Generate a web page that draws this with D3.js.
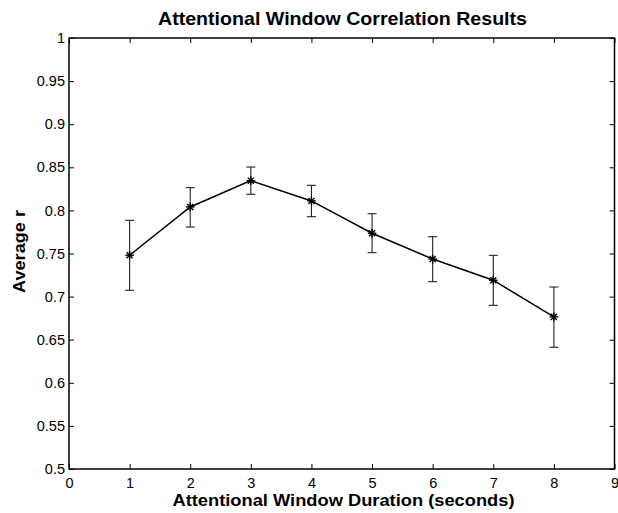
<!DOCTYPE html>
<html>
<head>
<meta charset="utf-8">
<script src="https://cdn.jsdelivr.net/npm/d3@7/dist/d3.min.js"></script>
<style>
  html, body { margin: 0; padding: 0; background: #fff; }
  svg { display: block; font-family: "Liberation Sans", Arial, Helvetica, sans-serif; }
</style>
</head>
<body>
<svg id="chart" width="618" height="513"></svg>
<script>
// Window duration (seconds) and mean correlation with error bounds
const durations = [1, 2, 3, 4, 5, 6, 7, 8];
const meanR     = [0.748, 0.804, 0.8345, 0.811, 0.7735, 0.7436, 0.719, 0.6765];
const upperR    = [0.7885, 0.8264, 0.8503, 0.8291, 0.7962, 0.7695, 0.7479, 0.7111];
const lowerR    = [0.7073, 0.7807, 0.8187, 0.7927, 0.751, 0.7173, 0.6899, 0.6412];

const xTicks = [0, 1, 2, 3, 4, 5, 6, 7, 8, 9];
const yTicks = [0.5, 0.55, 0.6, 0.65, 0.7, 0.75, 0.8, 0.85, 0.9, 0.95, 1];

const titleText  = "Attentional Window Correlation Results";
const xLabelText = "Attentional Window Duration (seconds)";
const yLabelText = "Average r";

const svg = d3.select("#chart");
const plotL = 69, plotR = 614.5, plotT = 38, plotB = 469;

const x = d3.scaleLinear().domain([0, 9]).range([plotL, plotR]);
const y = d3.scaleLinear().domain([0.5, 1]).range([plotB, plotT]);

const points = durations.map((d, i) => ({ d, m: meanR[i], hi: upperR[i], lo: lowerR[i] }));

// Axes: ticks point inward, mirrored on top and right edges
const tickLen = 5;
const fmtY = v => (v === 1 ? "1" : String(+v.toFixed(2)));

const xAxisB = d3.axisBottom(x).tickValues(xTicks).tickSizeInner(-tickLen).tickSizeOuter(0).tickPadding(9).tickFormat(d3.format("d"));
const xAxisT = d3.axisTop(x).tickValues(xTicks).tickSizeInner(-tickLen).tickSizeOuter(0).tickFormat("");
const yAxisL = d3.axisLeft(y).tickValues(yTicks).tickSizeInner(-tickLen).tickSizeOuter(0).tickPadding(4).tickFormat(fmtY);
const yAxisR = d3.axisRight(y).tickValues(yTicks).tickSizeInner(-tickLen).tickSizeOuter(0).tickFormat("");

function styleAxis(g) {
  g.select(".domain").remove();
  g.selectAll(".tick line").attr("stroke", "#000").attr("stroke-width", 1);
  g.selectAll(".tick text").attr("fill", "#000").style("font-size", "14.5px")
    .style("font-family", "'Liberation Sans', Arial, sans-serif");
}

svg.append("g").attr("transform", `translate(0,${plotB})`).call(xAxisB).call(styleAxis);
svg.append("g").attr("transform", `translate(0,${plotT})`).call(xAxisT).call(styleAxis);
svg.append("g").attr("transform", `translate(${plotL},0)`).call(yAxisL).call(styleAxis);
svg.append("g").attr("transform", `translate(${plotR},0)`).call(yAxisR).call(styleAxis);

// Frame
svg.append("rect")
  .attr("x", plotL).attr("y", plotT)
  .attr("width", plotR - plotL).attr("height", plotB - plotT)
  .attr("fill", "none").attr("stroke", "#000").attr("stroke-width", 1.5);

// Error bars
const capHalf = 4.5;
const eb = svg.append("g").attr("stroke", "#222").attr("stroke-width", 1.1);
eb.selectAll("line.v").data(points).join("line").attr("class", "v")
  .attr("x1", p => x(p.d)).attr("x2", p => x(p.d))
  .attr("y1", p => y(p.hi)).attr("y2", p => y(p.lo));
eb.selectAll("line.hi").data(points).join("line").attr("class", "hi")
  .attr("x1", p => x(p.d) - capHalf).attr("x2", p => x(p.d) + capHalf)
  .attr("y1", p => y(p.hi)).attr("y2", p => y(p.hi));
eb.selectAll("line.lo").data(points).join("line").attr("class", "lo")
  .attr("x1", p => x(p.d) - capHalf).attr("x2", p => x(p.d) + capHalf)
  .attr("y1", p => y(p.lo)).attr("y2", p => y(p.lo));

// Mean line
svg.append("path")
  .datum(points)
  .attr("fill", "none").attr("stroke", "#000").attr("stroke-width", 1.5)
  .attr("d", d3.line().x(p => x(p.d)).y(p => y(p.m)));

// Asterisk markers
const starR = 4.3;
const star = svg.append("g").attr("stroke", "#000").attr("stroke-width", 1.4);
points.forEach(p => {
  const cx = x(p.d), cy = y(p.m);
  const g = star.append("g").attr("transform", `translate(${cx},${cy})`);
  [0, 45, 90, 135].forEach(a => {
    const rad = a * Math.PI / 180;
    g.append("line")
      .attr("x1", -starR * Math.cos(rad)).attr("y1", -starR * Math.sin(rad))
      .attr("x2", starR * Math.cos(rad)).attr("y2", starR * Math.sin(rad));
  });
});

// Titles
svg.append("text")
  .attr("x", 342.5).attr("y", 25)
  .attr("text-anchor", "middle")
  .attr("textLength", 369).attr("lengthAdjust", "spacingAndGlyphs")
  .style("font-size", "19px").style("font-weight", "bold")
  .text(titleText);

svg.append("text")
  .attr("x", 343.5).attr("y", 506)
  .attr("text-anchor", "middle")
  .attr("textLength", 342).attr("lengthAdjust", "spacingAndGlyphs")
  .style("font-size", "16.5px").style("font-weight", "bold")
  .text(xLabelText);

svg.append("text")
  .attr("transform", `translate(24.5,251.5) rotate(-90)`)
  .attr("text-anchor", "middle")
  .attr("textLength", 83).attr("lengthAdjust", "spacingAndGlyphs")
  .style("font-size", "17px").style("font-weight", "bold")
  .text(yLabelText);
</script>
</body>
</html>
